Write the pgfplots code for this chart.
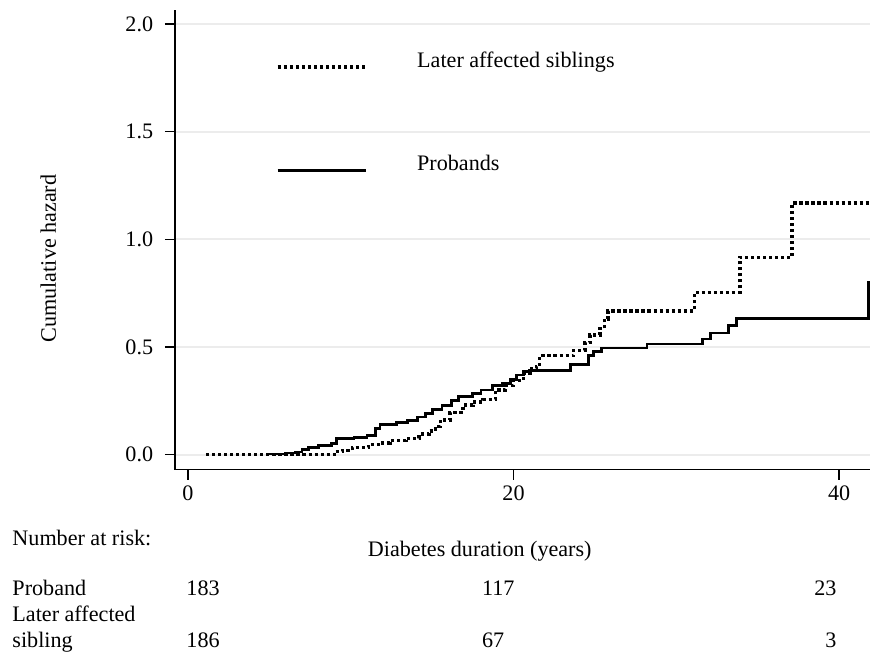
\documentclass[border=0pt]{standalone}
\usepackage{fontspec}
\setmainfont{Liberation Serif}
\usepackage{pgfplots}
\pgfplotsset{compat=1.18}
\begin{document}
\fontsize{11pt}{13pt}\selectfont
\begin{tikzpicture}
\useasboundingbox (-87pt,-91pt) rectangle (345.5pt,233.5pt);
\begin{axis}[
  at={(0,0)}, anchor=south west,
  scale only axis, width=345.5pt, height=228.5pt,
  xmin=-0.8, xmax=41.9, ymin=-0.07, ymax=2.065,
  axis x line*=bottom, axis y line*=left,
  axis line style={line width=0.7pt, -},
  xtick={0,20,40}, ytick={0,0.5,1,1.5,2},
  yticklabel style={/pgf/number format/.cd, fixed, fixed zerofill, precision=1, /tikz/.cd, xshift=-2pt},
  xticklabel style={yshift=1pt},
  /pgf/number format/assume math mode=true,
  tick align=outside, major tick length=5pt,
  tick style={line width=0.7pt, black},
  ymajorgrids, grid style={line width=1pt, gray!15},
  clip=false,
  font=\fontsize{11pt}{13pt}\selectfont,
  xlabel={Diabetes duration (years)},
  xlabel style={at={(axis description cs:0.4385,0)}, anchor=base, yshift=-43pt, inner sep=0pt},
  ylabel={Cumulative hazard},
  ylabel style={at={(axis description cs:-0.1823,0.4595)}, anchor=center},
  legend style={draw=none, fill=none, inner sep=0pt, at={(0.1447,0.919)}, anchor=north west,
    row sep=38pt, /tikz/every odd column/.append style={column sep=22.5pt},
    font=\fontsize{11pt}{13pt}\selectfont},
  legend cell align=left,
  legend image code/.code={\draw[#1] (0pt,-3pt) -- (44pt,-3pt);},
]
\addplot[const plot, black, line width=1.7pt, dash pattern=on 1.6pt off 1.4pt] coordinates {
(1.1,0) (9.0,0.014) (9.5,0.02) (10.1,0.033) (11.1,0.047) (11.8,0.055) (12.4,0.065)
(13.4,0.075) (14.2,0.095) (14.8,0.11) (15.2,0.13) (15.5,0.16) (16.1,0.196) (16.9,0.23)
(17.5,0.245) (18.1,0.257) (18.9,0.30) (19.5,0.32) (20.0,0.345) (20.6,0.38) (21.0,0.40)
(21.4,0.41) (21.6,0.46) (23.7,0.485) (24.4,0.52) (24.7,0.556) (25.3,0.585) (25.6,0.63)
(25.8,0.668) (31.1,0.752) (33.9,0.916) (37.1,1.168) (41.9,1.168)};
\addlegendentry{Later affected siblings}
\addplot[const plot, black, line width=1.4pt] coordinates {
(4.9,0.003) (6.0,0.008) (6.6,0.012) (7.0,0.025) (7.4,0.035) (8.0,0.042)
(8.8,0.05) (9.1,0.075) (10.2,0.08) (11.0,0.09) (11.5,0.12) (11.8,0.14) (12.8,0.15)
(13.5,0.16) (14.1,0.175) (14.6,0.19) (15.0,0.21) (15.6,0.23) (16.2,0.25) (16.6,0.27)
(17.5,0.285) (18.0,0.30) (18.7,0.32) (19.3,0.33) (19.8,0.35) (20.2,0.37) (20.6,0.385)
(21.0,0.39) (23.5,0.42) (24.6,0.46) (24.9,0.48) (25.4,0.495) (28.2,0.514) (31.6,0.537)
(32.1,0.565) (33.2,0.598) (33.7,0.631) (41.8,0.80) (41.9,0.80)};
\addlegendentry{Probands}
\end{axis}
\begin{scope}[every node/.style={inner sep=0pt}]
\node[anchor=base west] at (-81pt,-37.5pt) {Number at risk:};
\node[anchor=base west] at (-81pt,-62.5pt) {Proband};
\node[anchor=base west] at (5.5pt,-62.5pt) {183};
\node[anchor=base west] at (152.5pt,-62.5pt) {117};
\node[anchor=base east] at (329pt,-62.5pt) {23};
\node[anchor=base west] at (-81pt,-75.5pt) {Later affected};
\node[anchor=base west] at (-81pt,-88.5pt) {sibling};
\node[anchor=base west] at (5.5pt,-88.5pt) {186};
\node[anchor=base west] at (152.5pt,-88.5pt) {67};
\node[anchor=base east] at (329pt,-88.5pt) {3};
\end{scope}
\end{tikzpicture}
\end{document}
